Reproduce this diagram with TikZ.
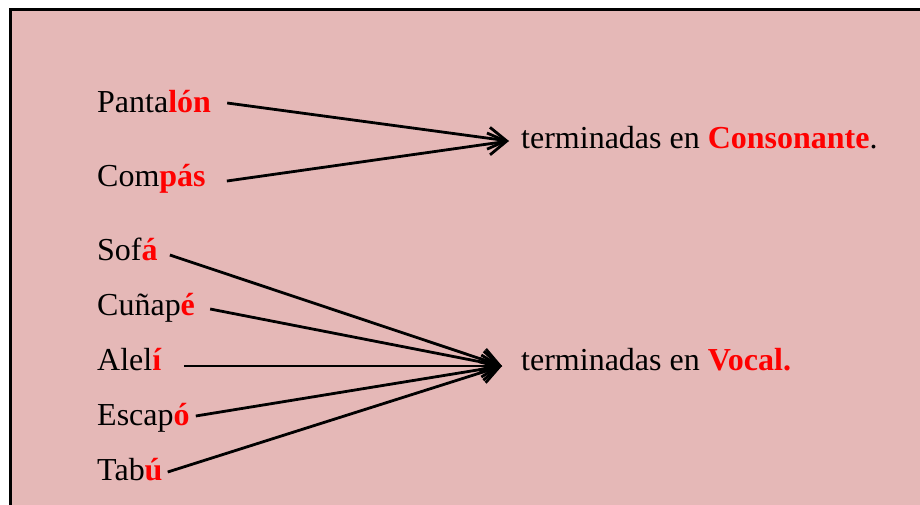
\documentclass[tikz,border=0pt]{standalone}
\usepackage{fontspec}
\setmainfont{Liberation Serif}
\usetikzlibrary{arrows.meta}
\definecolor{rosa}{HTML}{E5B8B7}
\newcommand{\rojo}[1]{\textcolor{red}{\textbf{#1}}}
\tikzset{
    palabra/.style={anchor=base west, inner sep=0pt, font=\fontsize{32}{38}\selectfont},
    flecha/.style={line width=2.8pt, -{Straight Barb[length=18pt, width=22pt]}}
}
\begin{document}
\begin{tikzpicture}[x=1pt, y=-1pt]
    \useasboundingbox (0, 0) rectangle (920, 504);
    \clip (0, 0) rectangle (920, 504);
    \filldraw[fill=rosa, draw=black, line width=3pt] (10, 9) rectangle (940, 530);
    % palabras agudas
    \node[palabra] (pantalon) at (97, 112) {Panta\rojo{lón}};
    \node[palabra] (compas) at (97, 186) {Com\rojo{pás}};
    \node[palabra] (sofa) at (97, 260) {Sof\rojo{á}};
    \node[palabra] (cunape) at (97, 315) {Cuñap\rojo{é}};
    \node[palabra] (aleli) at (97, 370) {Alel\rojo{í}};
    \node[palabra] (escapo) at (97, 425) {Escap\rojo{ó}};
    \node[palabra] (tabu) at (97, 480) {Tab\rojo{ú}};
    \node[palabra] (consonante) at (521, 148) {terminadas en \rojo{Consonante}.};
    \node[palabra] (vocal) at (521, 370) {terminadas en \rojo{Vocal.}};
    \coordinate (tipC) at (509, 141);
    \coordinate (tipV) at (502, 366);
    % flechas
    \draw[flecha] ([shift={(16, -9)}]pantalon.base east) -- (tipC);
    \draw[flecha] ([shift={(21, -5)}]compas.base east) -- (tipC);
    \draw[flecha] ([shift={(12, -5)}]sofa.base east) -- (tipV);
    \draw[flecha] ([shift={(15, -6)}]cunape.base east) -- (tipV);
    \draw[flecha] ([shift={(22, -4)}]aleli.base east) -- (tipV);
    \draw[flecha] ([shift={(6, -9)}]escapo.base east) -- (tipV);
    \draw[flecha] ([shift={(5, -8)}]tabu.base east) -- (tipV);
\end{tikzpicture}
\end{document}
